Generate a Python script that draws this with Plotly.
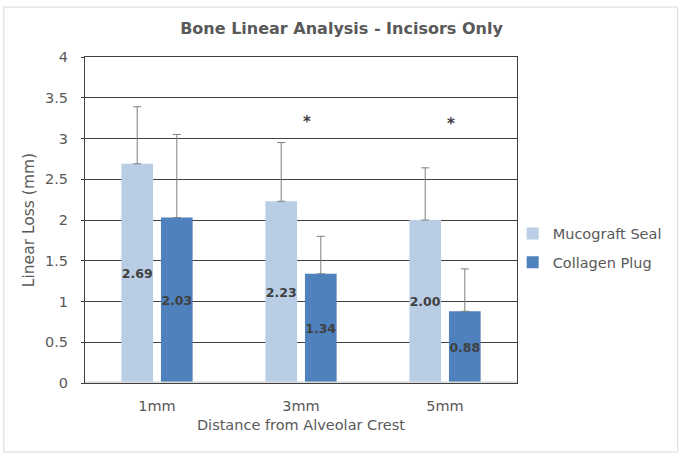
import plotly.graph_objects as go

categories = ["1mm", "3mm", "5mm"]
seal_values = [2.69, 2.23, 2.00]
plug_values = [2.03, 1.34, 0.88]
seal_err = [0.70, 0.72, 0.64]
plug_err = [1.02, 0.46, 0.52]
sig_categories = ["3mm", "5mm"]
sig_heights = [3.2, 3.18]
y_ticks = [0, 0.5, 1, 1.5, 2, 2.5, 3, 3.5, 4]
y_tick_labels = ["0", "0.5", "1", "1.5", "2", "2.5", "3", "3.5", "4"]

FONT = "DejaVu Sans"
GRAY = "#595959"

fig = go.Figure()
fig.add_trace(go.Bar(
    name="Mucograft Seal", x=categories, y=seal_values, legendgroup="seal",
    marker=dict(color="#B9CDE5", line=dict(width=0)),
    error_y=dict(type="data", array=seal_err, arrayminus=[0]*3, symmetric=False,
                 color="#7F7F7F", thickness=1, width=4),
    text=[f"{v:.2f}" for v in seal_values], textposition="inside",
    insidetextanchor="middle", textangle=0, constraintext="none",
    textfont=dict(family=FONT, size=12.5, color="#404040", weight="bold"),
))
fig.add_trace(go.Bar(
    name="Collagen Plug", x=categories, y=plug_values, legendgroup="plug",
    marker=dict(color="#4F81BD", line=dict(width=0)),
    error_y=dict(type="data", array=plug_err, arrayminus=[0]*3, symmetric=False,
                 color="#7F7F7F", thickness=1, width=4),
    text=[f"{v:.2f}" for v in plug_values], textposition="inside",
    insidetextanchor="middle", textangle=0, constraintext="none",
    textfont=dict(family=FONT, size=12.5, color="#404040", weight="bold"),
))

for c, h in zip(sig_categories, sig_heights):
    fig.add_annotation(x=c, y=h, text="*", showarrow=False, xshift=6,
                       font=dict(family=FONT, size=15, color="#404040", weight="bold"))

# outer chart border
fig.add_shape(type="rect", xref="paper", yref="paper",
              x0=-0.188, x1=1.372, y0=-0.212, y1=1.153,
              line=dict(color="#D9D9D9", width=1), fillcolor="rgba(0,0,0,0)", layer="below")

fig.update_layout(
    width=683, height=456,
    margin=dict(l=85, r=166, t=57, b=73, autoexpand=False),
    paper_bgcolor="white", plot_bgcolor="white",
    barmode="group", bargap=0.45, bargroupgap=0.2,
    title=dict(text="<b>Bone Linear Analysis - Incisors Only</b>", x=0.5, xanchor="center",
               y=0.938, yanchor="middle",
               font=dict(family=FONT, size=16, color=GRAY)),
    font=dict(family=FONT, color=GRAY),
    showlegend=True,
    legend=dict(x=0.99, y=0.414, xanchor="left", yanchor="middle",
                font=dict(family=FONT, size=14.5, color=GRAY),
                itemwidth=30, tracegroupgap=7, bgcolor="rgba(0,0,0,0)"),
    xaxis=dict(showgrid=False, showline=True, linecolor="#404040", linewidth=1, mirror=True,
               tickfont=dict(family=FONT, size=14.5, color=GRAY), ticks="",
               ticklabelstandoff=10,
               title=dict(text="Distance from Alveolar Crest", standoff=6,
                          font=dict(family=FONT, size=14.5, color=GRAY))),
    yaxis=dict(range=[0, 4], tickvals=y_ticks, ticktext=y_tick_labels,
               showgrid=True, gridcolor="#404040", gridwidth=1,
               showline=True, linecolor="#404040", linewidth=1, mirror=True,
               zeroline=False, ticks="outside", ticklen=3, tickcolor="#404040",
               ticklabelstandoff=10,
               tickfont=dict(family=FONT, size=14.5, color=GRAY),
               title=dict(text="Linear Loss (mm)", standoff=6,
                          font=dict(family=FONT, size=15.5, color=GRAY))),
)

# light gray baseline at y=0
fig.add_shape(type="line", xref="paper", yref="y", x0=0, x1=1, y0=0, y1=0,
              line=dict(color="#D9D9D9", width=3), layer="above")

fig.write_html("out.html")
